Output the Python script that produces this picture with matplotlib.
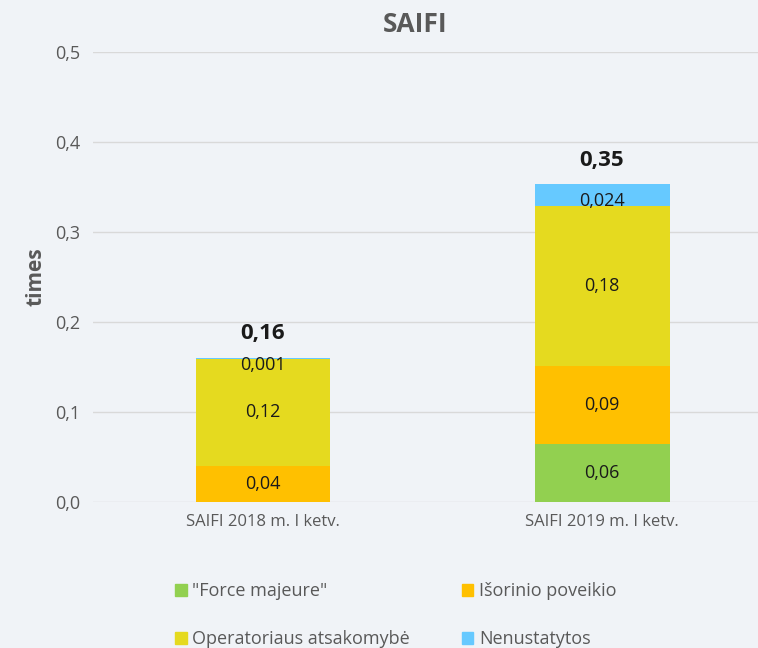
import numpy as np
import matplotlib.pyplot as plt
from matplotlib.patches import Patch

plt.rcParams['font.family'] = ['Open Sans', 'DejaVu Sans']

categories = ['SAIFI 2018 m. I ketv.', 'SAIFI 2019 m. I ketv.']
series_names = ['"Force majeure"', 'Išorinio poveikio', 'Operatoriaus atsakomybė', 'Nenustatytos']
force = [0.0, 0.065]
isorinio = [0.04, 0.086]
operatoriaus = [0.119, 0.178]
nenustatytos = [0.001, 0.024]
seg_labels = [['', '0,06'], ['0,04', '0,09'], ['0,12', '0,18'], ['0,001', '0,024']]
total_labels = ['0,16', '0,35']
yticks = [0.0, 0.1, 0.2, 0.3, 0.4, 0.5]
ytick_labels = ['0,0', '0,1', '0,2', '0,3', '0,4', '0,5']

colors = ['#92d050', '#ffc000', '#e5da1f', '#66c9ff']
bg = '#f0f3f7'
grey = '#595959'

fig = plt.figure(figsize=(7.58, 6.48), dpi=100, facecolor=bg)
ax = fig.add_axes([93/758, 146/648, 665/758, 450/648], facecolor=bg)

x = np.arange(len(categories))
series = [force, isorinio, operatoriaus, nenustatytos]
bottom = np.zeros(len(categories))
for vals, col, labs in zip(series, colors, seg_labels):
    vals = np.array(vals)
    ax.bar(x, vals, 0.398, bottom=bottom, color=col, zorder=3)
    for i in range(len(x)):
        if labs[i]:
            ypos = bottom[i] + vals[i] / 2
            if vals[i] < 0.03:
                # small segments: label sits a bit lower, like in excel
                ypos -= 0.007
            ax.text(x[i], ypos, labs[i], ha='center', va='center',
                    fontsize=13, color='#1a1a1a', zorder=4)
    bottom = bottom + vals

for i in range(len(x)):
    ax.text(x[i], bottom[i] + 0.015, total_labels[i], ha='center', va='bottom',
            fontsize=16, fontweight='bold', color='#1a1a1a')

ax.set_xlim(-0.5015, 1.46)
ax.set_ylim(0, 0.5)
ax.set_yticks(yticks)
ax.set_yticklabels(ytick_labels, fontsize=13, color=grey)
ax.set_xticks(x)
ax.set_xticklabels(categories, fontsize=12, color=grey)
ax.tick_params(length=0, pad=9)
ax.tick_params(axis='x', pad=9)
ax.grid(axis='y', color='#d9d9d9', linewidth=1, zorder=0)
for s in ax.spines.values():
    s.set_visible(False)

ax.set_ylabel('times', fontsize=15, fontweight='bold', color=grey, labelpad=6)
fig.text(415/758, 1 - 25/648, 'SAIFI', ha='center', va='center', fontsize=19,
         fontweight='bold', color=grey)

order = [0, 2, 1, 3]
handles = [Patch(color=colors[k], label=series_names[k]) for k in order]
fig.legend(handles=handles, ncol=2, loc='upper left', bbox_to_anchor=(159/758, 1 - 566/648),
           frameon=False, fontsize=13, labelcolor=grey, handlelength=0.65, handleheight=0.65,
           handletextpad=0.3, labelspacing=1.65, columnspacing=2.85)

plt.savefig('out.png', dpi=100, facecolor=bg)
